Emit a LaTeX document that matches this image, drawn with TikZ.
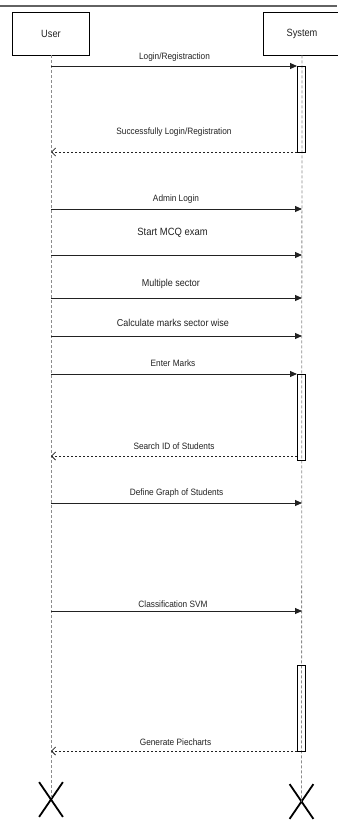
\documentclass[tikz,border=0pt]{standalone}
\usepackage{fontspec}
\setmainfont{Liberation Sans}
\usetikzlibrary{arrows.meta,shapes.misc}
\definecolor{life}{HTML}{8C8C8C}
\definecolor{ink}{HTML}{222222}
\tikzset{actor/.style={draw=black,line width=.8pt,minimum width=87pt,minimum height=43pt,
    font=\fontsize{10.5}{12}\selectfont,text=ink,xscale=.88}}
\tikzset{msglabel/.style={font=\fontsize{9.2}{10}\selectfont,text=ink,inner sep=0pt,xscale=.9}}

\begin{document}
\begin{tikzpicture}[x=1pt,y=-1pt,
    lifeline/.style = {life, line width=.8pt, dash pattern=on 3pt off 2pt},
    call/.style = {ink, line width=.9pt, -{Triangle[length=7pt,width=6pt]}},
    reply/.style = {ink, line width=.8pt, dash pattern=on 2.5pt off 1.5pt,
      -{Straight Barb[length=4pt,width=8pt,line width=.8pt]}},
    bar/.style = {draw=black, line width=.8pt},
    endmark/.style = {cross out, draw=black, line width=1.8pt,
      minimum width=22pt, minimum height=33pt, inner sep=0pt}]
  \useasboundingbox (0,0) rectangle (337,821);
  \draw[life!70!black, line width=1.6pt] (0,6) -- (337,6);

  % actors
  \node[actor] (user) at (51,33.5) {User};
  \node[actor] (system) at (302,33.5) {System};
  \node[endmark] (userx) at (51,799.5) {};
  \node[endmark] (systemx) at (301.5,801.5) {};
  \draw[lifeline] (user.south) -- (userx.center);
  \draw[lifeline] (system.south) -- (systemx.center);

  % activation bars
  \draw[bar] (297,66) rectangle (305,152);
  \draw[bar] (297,374) rectangle (305,460);
  \draw[bar] (297,665) rectangle (305,751);

  % messages user -> system
  \foreach \n/\y/\e in {1/66/297, 2/209/302, 3/255/302, 4/298/302,
                        5/336/302, 6/374/297, 7/503/302, 8/611/302} {
    \coordinate (u\n) at (51,\y);
    \coordinate (s\n) at (\e,\y);
    \draw[call] (u\n) -- (s\n);
  }
  % replies system -> user
  \foreach \n/\y in {1/152, 2/456, 3/751} {
    \coordinate (rs\n) at (297,\y);
    \coordinate (ru\n) at (51,\y);
    \draw[reply] (rs\n) -- (ru\n);
  }

  % labels
  \node[msglabel] (l1) at (174.5,57) {Login/Registraction};
  \node[msglabel] (r1) at (174,132.5) {Successfully Login/Registration};
  \node[msglabel] (l2) at (176,199) {Admin Login};
  \node[msglabel, font=\fontsize{10.5}{12}\selectfont] (l3) at (172.5,232.5) {Start MCQ exam};
  \node[msglabel, font=\fontsize{10}{12}\selectfont] (l4) at (171,283.5) {Multiple sector};
  \node[msglabel, font=\fontsize{10}{12}\selectfont] (l5) at (173,322.5) {Calculate marks sector wise};
  \node[msglabel] (l6) at (173,363.5) {Enter Marks};
  \node[msglabel] (r2) at (174,446) {Search ID of Students};
  \node[msglabel] (l7) at (176.5,493) {Define Graph of Students};
  \node[msglabel] (l8) at (173,604) {Classification SVM};
  \node[msglabel] (r3) at (175.5,742) {Generate Piecharts};
\end{tikzpicture}
\end{document}
